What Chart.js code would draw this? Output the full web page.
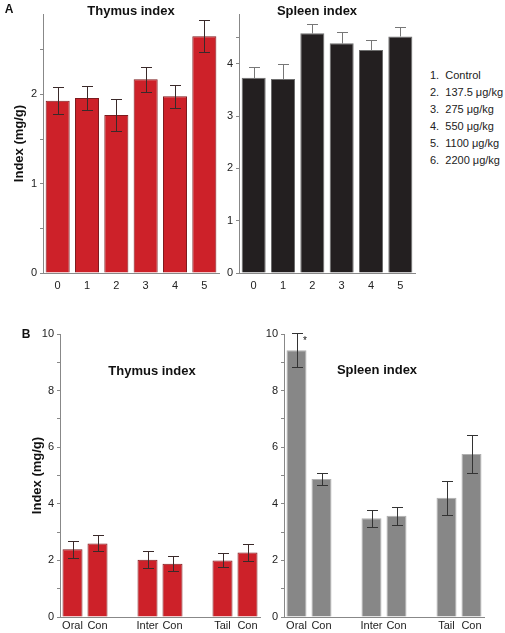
<!DOCTYPE html>
<html lang="en">
<head>
  <meta charset="UTF-8">
  <title>Thymus and spleen index</title>
  <script src="https://cdn.jsdelivr.net/npm/chart.js"></script>
  <style>
    body { margin: 0; background: #fff; font-family: "Liberation Sans", Arial, sans-serif; color: #111; }
    #wrap { position: relative; width: 505px; height: 633px; }
    #wrap canvas { position: absolute; }
    .txt { position: absolute; transform: translate(-50%, -50%); white-space: nowrap; }
    .ttl { font-weight: bold; font-size: 13px; }
    .letter { font-weight: bold; font-size: 12px; }
    .legend { position: absolute; left: 430px; top: 67px; font-size: 11px; line-height: 17px; color: #222; }
  </style>
</head>
<body>
  <div id="wrap">
    <canvas id="thymusA" width="225" height="300" style="left:0;top:0"></canvas>
    <canvas id="spleenA" width="200" height="300" style="left:225px;top:0"></canvas>
    <canvas id="thymusB" width="270" height="333" style="left:0;top:300px"></canvas>
    <canvas id="spleenB" width="255" height="333" style="left:250px;top:300px"></canvas>

    <div class="txt letter" style="left:9px;top:9px">A</div>
    <div class="txt ttl" style="left:131px;top:10px">Thymus index</div>
    <div class="txt ttl" style="left:317px;top:10px">Spleen index</div>
    <div class="legend" id="legend"></div>

    <div class="txt letter" style="left:26px;top:334px">B</div>
    <div class="txt ttl" style="left:152px;top:370px">Thymus index</div>
    <div class="txt ttl" style="left:377px;top:369px">Spleen index</div>
    <div class="txt" style="left:305px;top:340px;font-size:10px">*</div>
  </div>

  <script>
    // panel A: dose groups
    const doseLabels = ['0', '1', '2', '3', '4', '5'];
    const doseLegend = ['Control', '137.5 μg/kg', '275 μg/kg', '550 μg/kg', '1100 μg/kg', '2200 μg/kg'];
    const thymusA = [1.93, 1.96, 1.77, 2.17, 1.98, 2.65];
    const thymusAErr = [0.15, 0.13, 0.18, 0.14, 0.13, 0.18];
    const spleenA = [3.73, 3.71, 4.58, 4.39, 4.26, 4.52];
    const spleenAErr = [0.20, 0.29, 0.18, 0.21, 0.20, 0.18];

    // panel B: routes (empty slots = gaps between pairs)
    const routeLabels = ['Oral', 'Con', '', 'Inter', 'Con', '', 'Tail', 'Con'];
    const thymusB = [2.39, 2.60, null, 2.02, 1.88, null, 2.00, 2.28];
    const thymusBErr = [0.30, 0.28, null, 0.30, 0.26, null, 0.25, 0.30];
    const spleenB = [9.43, 4.88, null, 3.49, 3.58, null, 4.21, 5.76];
    const spleenBErr = [0.60, 0.20, null, 0.30, 0.32, null, 0.60, 0.66];

    document.getElementById('legend').innerHTML =
      doseLegend.map((t, i) => (i + 1) + '.&nbsp; ' + t).join('<br>');

    Chart.defaults.font.family = '"Liberation Sans", Arial, sans-serif';
    Chart.defaults.color = '#222';

    // error bars drawn from the y scale
    const errorBars = {
      id: 'errorBars',
      afterDatasetsDraw(chart, args, opts) {
        if (!opts.errors) return;
        const ctx = chart.ctx;
        const meta = chart.getDatasetMeta(0);
        const y = chart.scales.y;
        const vals = chart.data.datasets[0].data;
        ctx.save();
        ctx.strokeStyle = opts.color;
        ctx.lineWidth = 1;
        opts.errors.forEach((e, i) => {
          if (e == null || vals[i] == null) return;
          const x = Math.round(meta.data[i].x) + 0.5;
          const top = Math.round(y.getPixelForValue(vals[i] + e)) + 0.5;
          const bot = Math.round(y.getPixelForValue(opts.upperOnly ? vals[i] : vals[i] - e)) + 0.5;
          const w = opts.cap / 2;
          ctx.beginPath();
          ctx.moveTo(x, top); ctx.lineTo(x, bot);
          ctx.moveTo(x - w, top); ctx.lineTo(x + w, top);
          if (!opts.upperOnly) { ctx.moveTo(x - w, bot); ctx.lineTo(x + w, bot); }
          ctx.stroke();
        });
        ctx.restore();
      }
    };

    function makeChart(id, cfg) {
      const yTicks = {
        font: { size: 11 },
        padding: 3,
        callback: cfg.tickLabel
      };
      return new Chart(document.getElementById(id), {
        type: 'bar',
        data: {
          labels: cfg.labels,
          datasets: [{
            data: cfg.values,
            backgroundColor: cfg.fill,
            borderColor: cfg.border,
            borderWidth: 1,
            categoryPercentage: cfg.catPct,
            barPercentage: 1
          }]
        },
        options: {
          responsive: false,
          animation: false,
          layout: { padding: cfg.padding },
          plugins: {
            legend: { display: false },
            tooltip: { enabled: false },
            errorBars: { errors: cfg.errors, color: cfg.errColor, upperOnly: cfg.upperOnly, cap: 11 }
          },
          scales: {
            x: {
              grid: { display: true, drawOnChartArea: false, drawTicks: false },
              border: { color: '#888', width: 1 },
              ticks: { font: { size: 11 }, padding: cfg.xPad, autoSkip: false, maxRotation: 0 },
              afterFit(s) { s.height = cfg.xHeight; }
            },
            y: {
              min: 0,
              max: cfg.max,
              afterBuildTicks: cfg.tickList ? (s) => { s.ticks = cfg.tickList.map(v => ({ value: v })); } : undefined,
              ticks: Object.assign(yTicks, cfg.stepSize ? { stepSize: cfg.stepSize, includeBounds: false } : {}),
              grid: { drawOnChartArea: false, drawTicks: true, tickLength: 3, color: '#888' },
              border: { color: '#888', width: 1 },
              title: cfg.yTitle ? {
                display: true, text: 'Index (mg/g)', color: '#111',
                font: { size: 13, weight: 'bold' }, padding: { top: cfg.yTitlePad, bottom: 0 }
              } : { display: false },
              afterFit(s) { s.width = cfg.yWidth; }
            }
          }
        },
        plugins: [errorBars]
      });
    }

    const halfLabels = (v) => Number.isInteger(v) ? v : '';
    const evenLabels = (v) => v % 2 === 0 ? v : '';

    makeChart('thymusA', {
      labels: doseLabels, values: thymusA, errors: thymusAErr,
      fill: '#cd2129', border: '#7d1b1e', errColor: '#3a2a2a', catPct: 0.82,
      max: 2.9, stepSize: 0.5, tickLabel: halfLabels,
      padding: { top: 14, right: 6, bottom: 0, left: 0 },
      yWidth: 43, xHeight: 27, xPad: 6, yTitle: true, yTitlePad: 12
    });

    makeChart('spleenA', {
      labels: doseLabels, values: spleenA, errors: spleenAErr, upperOnly: true,
      fill: '#231f20', border: '#6f6f6f', errColor: '#777', catPct: 0.82,
      max: 4.95, tickList: [0, 1, 2, 3, 4, 4.5], tickLabel: halfLabels,
      padding: { top: 14, right: 10, bottom: 0, left: 0 },
      yWidth: 14, xHeight: 27, xPad: 6
    });

    makeChart('thymusB', {
      labels: routeLabels, values: thymusB, errors: thymusBErr,
      fill: '#cd2129', border: '#7d1b1e', errColor: '#3a2a2a', catPct: 0.8,
      max: 10, stepSize: 1, tickLabel: evenLabels,
      padding: { top: 34, right: 10, bottom: 0, left: 0 },
      yWidth: 60, xHeight: 16, xPad: 2, yTitle: true, yTitlePad: 30
    });

    makeChart('spleenB', {
      labels: routeLabels, values: spleenB, errors: spleenBErr,
      fill: '#878787', border: '#b0b0b0', errColor: '#333', catPct: 0.8,
      max: 10, stepSize: 1, tickLabel: evenLabels,
      padding: { top: 34, right: 21, bottom: 0, left: 0 },
      yWidth: 34, xHeight: 16, xPad: 2
    });
  </script>
</body>
</html>
